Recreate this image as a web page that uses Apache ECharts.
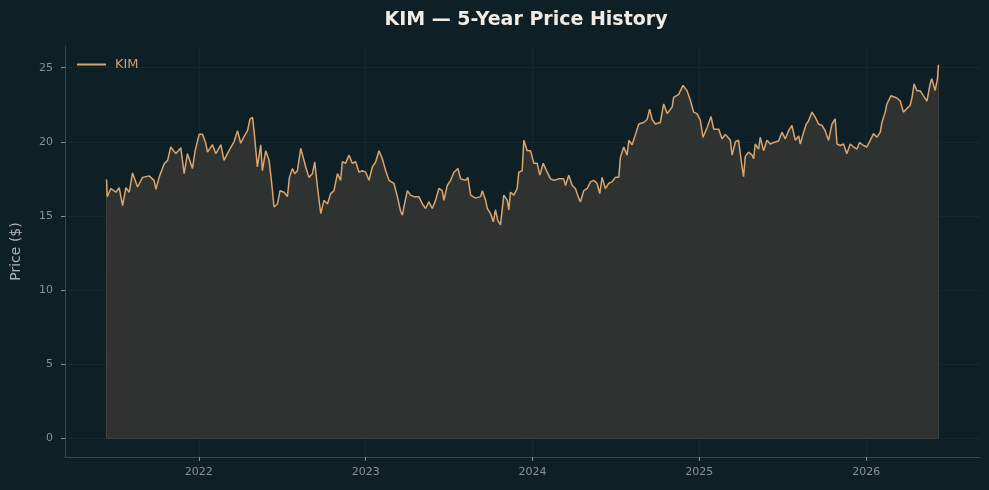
<!DOCTYPE html>
<html>
<head>
<meta charset="utf-8">
<title>KIM — 5-Year Price History</title>
<script src="https://cdn.jsdelivr.net/npm/echarts@6/dist/echarts.min.js"></script>
<style>
  html, body { margin: 0; padding: 0; background: #0f1f26; }
  #chart { width: 989px; height: 490px; }
</style>
</head>
<body>
<div id="chart"></div>
<script>
// decimal year of each reading
const when = [
  2021.447, 2021.451, 2021.473, 2021.503, 2021.523, 2021.543, 2021.563, 2021.583, 2021.603, 2021.633,
  2021.663, 2021.702, 2021.732, 2021.743, 2021.762, 2021.792, 2021.813, 2021.832, 2021.862, 2021.892,
  2021.912, 2021.932, 2021.962, 2021.978, 2022.002, 2022.022, 2022.042, 2022.052, 2022.082, 2022.102,
  2022.132, 2022.151, 2022.181, 2022.211, 2022.232, 2022.251, 2022.271, 2022.292, 2022.307, 2022.322,
  2022.331, 2022.351, 2022.371, 2022.381, 2022.401, 2022.421, 2022.435, 2022.451, 2022.471, 2022.487,
  2022.511, 2022.531, 2022.543, 2022.561, 2022.575, 2022.591, 2022.611, 2022.621, 2022.641, 2022.660,
  2022.681, 2022.695, 2022.711, 2022.731, 2022.750, 2022.771, 2022.790, 2022.810, 2022.831, 2022.850,
  2022.860, 2022.880, 2022.900, 2022.920, 2022.940, 2022.960, 2022.980, 2023.000, 2023.020, 2023.040,
  2023.060, 2023.080, 2023.100, 2023.120, 2023.140, 2023.150, 2023.169, 2023.190, 2023.210, 2023.220,
  2023.229, 2023.250, 2023.269, 2023.289, 2023.319, 2023.340, 2023.359, 2023.379, 2023.399, 2023.419,
  2023.439, 2023.459, 2023.469, 2023.489, 2023.509, 2023.529, 2023.553, 2023.569, 2023.599, 2023.613,
  2023.629, 2023.659, 2023.689, 2023.699, 2023.719, 2023.729, 2023.749, 2023.765, 2023.778, 2023.792,
  2023.808, 2023.828, 2023.849, 2023.858, 2023.868, 2023.888, 2023.908, 2023.918, 2023.938, 2023.948,
  2023.968, 2023.988, 2024.008, 2024.028, 2024.044, 2024.064, 2024.088, 2024.108, 2024.128, 2024.157,
  2024.187, 2024.198, 2024.217, 2024.238, 2024.257, 2024.277, 2024.287, 2024.307, 2024.328, 2024.347,
  2024.367, 2024.387, 2024.403, 2024.417, 2024.437, 2024.457, 2024.477, 2024.497, 2024.517, 2024.527,
  2024.547, 2024.567, 2024.577, 2024.597, 2024.617, 2024.637, 2024.666, 2024.687, 2024.702, 2024.717,
  2024.737, 2024.766, 2024.786, 2024.807, 2024.837, 2024.846, 2024.876, 2024.902, 2024.926, 2024.946,
  2024.966, 2024.986, 2025.006, 2025.022, 2025.046, 2025.070, 2025.086, 2025.116, 2025.136, 2025.156,
  2025.186, 2025.196, 2025.216, 2025.235, 2025.256, 2025.265, 2025.275, 2025.295, 2025.316, 2025.325,
  2025.335, 2025.355, 2025.365, 2025.385, 2025.405, 2025.425, 2025.445, 2025.475, 2025.495, 2025.515,
  2025.535, 2025.555, 2025.575, 2025.595, 2025.605, 2025.625, 2025.641, 2025.654, 2025.675, 2025.695,
  2025.714, 2025.735, 2025.754, 2025.774, 2025.795, 2025.814, 2025.825, 2025.844, 2025.864, 2025.884,
  2025.904, 2025.924, 2025.944, 2025.960, 2025.984, 2026.004, 2026.024, 2026.044, 2026.064, 2026.084,
  2026.094, 2026.114, 2026.124, 2026.148, 2026.184, 2026.204, 2026.223, 2026.244, 2026.263, 2026.274,
  2026.287, 2026.304, 2026.323, 2026.343, 2026.364, 2026.383, 2026.393, 2026.413, 2026.427, 2026.433
]

// closing price ($)
const price = [
  17.45, 16.3, 16.85, 16.6, 16.9, 15.7, 16.9, 16.6, 17.9, 16.95,
  17.6, 17.7, 17.4, 16.8, 17.6, 18.5, 18.75, 19.65, 19.2, 19.6,
  17.85, 19.2, 18.2, 19.4, 20.5, 20.5, 19.9, 19.3, 19.8, 19.2,
  19.8, 18.75, 19.4, 20.0, 20.75, 19.9, 20.35, 20.75, 21.55, 21.65,
  20.75, 18.3, 19.8, 18.05, 19.4, 18.75, 17.4, 15.6, 15.8, 16.7,
  16.6, 16.3, 17.6, 18.2, 17.85, 18.05, 19.55, 19.65, 18.3, 17.6,
  17.85, 18.65, 16.95, 15.15, 16.05, 15.8, 16.5, 16.7, 17.85, 17.4,
  18.65, 18.55, 19.1, 18.55, 18.65, 17.95, 18.05, 17.95, 17.4, 18.3,
  18.65, 19.4, 18.85, 18.05, 17.4, 17.4, 17.2, 16.3, 15.3, 15.05,
  15.6, 16.7, 16.4, 16.3, 16.3, 15.8, 15.5, 15.95, 15.5, 16.05,
  16.85, 16.7, 16.05, 17.05, 17.4, 17.95, 18.2, 17.5, 17.4, 17.6,
  16.4, 16.2, 16.3, 16.7, 16.05, 15.5, 15.15, 14.6, 15.4, 14.7,
  14.4, 16.4, 16.05, 15.4, 16.6, 16.4, 16.85, 17.95, 18.05, 20.1,
  19.4, 19.4, 18.55, 18.55, 17.75, 18.55, 17.95, 17.5, 17.4, 17.5,
  17.5, 17.05, 17.75, 17.05, 16.85, 16.2, 15.95, 16.7, 16.85, 17.3,
  17.4, 17.2, 16.5, 17.6, 16.85, 17.2, 17.3, 17.6, 17.6, 18.95,
  19.65, 19.1, 20.1, 19.8, 20.5, 21.2, 21.3, 21.5, 22.2, 21.5,
  21.2, 21.3, 22.55, 21.9, 22.35, 23.0, 23.2, 23.8, 23.45, 22.8,
  22.0, 21.9, 21.45, 20.3, 20.95, 21.7, 20.85, 20.85, 20.2, 20.5,
  20.1, 19.1, 20.0, 20.1, 18.3, 17.65, 19.0, 19.3, 19.1, 18.85,
  19.85, 19.5, 20.3, 19.4, 20.1, 19.85, 19.95, 20.05, 20.65, 20.2,
  20.75, 21.1, 20.1, 20.4, 19.85, 20.65, 21.2, 21.4, 22.0, 21.65,
  21.2, 21.1, 20.75, 20.1, 21.2, 21.55, 19.85, 19.75, 19.85, 19.2,
  19.85, 19.65, 19.5, 19.95, 19.75, 19.65, 20.1, 20.55, 20.3, 20.65,
  21.3, 22.0, 22.55, 23.1, 22.95, 22.75, 22.0, 22.25, 22.45, 22.95,
  23.9, 23.45, 23.45, 23.1, 22.75, 23.9, 24.25, 23.45, 24.25, 25.2
]

const yearTicks = [2022, 2023, 2024, 2025, 2026]
const priceTicks = [0, 5, 10, 15, 20, 25]

const chart = echarts.init(document.getElementById('chart'), null, { renderer: 'canvas' })

const pts = when.map((t, i) => [t, price[i]])
const last = when.length - 1
// outline of the filled area (left edge, baseline, right edge)
const areaEdge = [[when[0], price[0]], [when[0], 0], [when[last], 0], [when[last], price[last]]]

const axisGray = '#3b474b'
const labelGray = '#8b9296'
const gridFaint = '#16272d'

chart.setOption({
  backgroundColor: '#0f1f26',
  animation: false,
  textStyle: { fontFamily: 'DejaVu Sans' },
  title: {
    text: 'KIM — 5-Year Price History',
    left: 521,
    top: 6,
    textAlign: 'center',
    textStyle: { color: '#f1ece2', fontSize: 19, fontWeight: 'bold', fontFamily: 'DejaVu Sans' }
  },
  legend: {
    data: [{ name: 'KIM', icon: 'rect' }],
    left: 72,
    top: 53,
    itemWidth: 29,
    itemHeight: 2,
    itemGap: 8,
    textStyle: { color: '#c9a27a', fontSize: 13, fontFamily: 'DejaVu Sans', padding: [0, 0, 0, 4] }
  },
  grid: { left: 65, right: 9, top: 46, bottom: 33, containLabel: false, outerBoundsMode: 'none' },
  xAxis: {
    type: 'value',
    min: 2021.198,
    max: 2026.682,
    axisLine: { show: true, onZero: false, lineStyle: { color: axisGray, width: 1 } },
    axisTick: { show: true, length: 4, lineStyle: { color: labelGray }, customValues: yearTicks },
    axisLabel: { color: labelGray, fontSize: 11, margin: 10, customValues: yearTicks, formatter: v => String(v) },
    splitLine: { show: true, lineStyle: { color: gridFaint, width: 1 } }
  },
  yAxis: {
    type: 'value',
    min: -1.26,
    max: 26.46,
    name: 'Price ($)',
    nameLocation: 'middle',
    nameGap: 42,
    nameTextStyle: { color: '#aeb3b5', fontSize: 14, fontFamily: 'DejaVu Sans' },
    axisLine: { show: true, onZero: false, lineStyle: { color: axisGray, width: 1 } },
    axisTick: { show: true, length: 4, lineStyle: { color: labelGray }, customValues: priceTicks },
    axisLabel: { color: labelGray, fontSize: 11, margin: 12, customValues: priceTicks, formatter: v => String(v) },
    splitLine: { show: true, lineStyle: { color: gridFaint, width: 1 } }
  },
  series: [
    {
      name: 'edge',
      type: 'line',
      data: areaEdge,
      symbol: 'none',
      silent: true,
      lineStyle: { color: '#454a47', width: 1 },
      z: 1
    },
    {
      name: 'KIM',
      type: 'line',
      data: pts,
      symbol: 'none',
      lineStyle: { color: '#dba46c', width: 1.5 },
      itemStyle: { color: '#dba46c' },
      areaStyle: { color: '#2e3332', opacity: 1, origin: 0 },
      z: 2
    }
  ]
})
</script>
</body>
</html>
